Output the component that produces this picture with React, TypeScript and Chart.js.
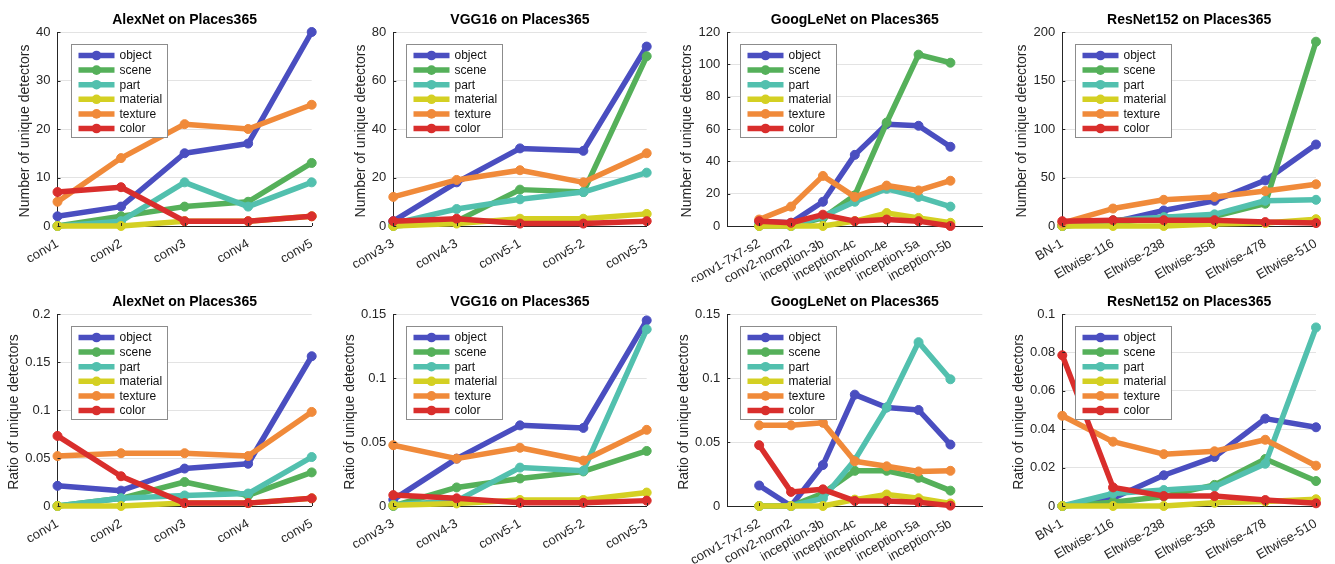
import React, { useEffect, useRef } from 'react';
import { Chart, registerables } from 'chart.js';

Chart.register(...registerables);

const FONT = '"Liberation Sans", Arial, Helvetica, sans-serif';

// ---------- data ----------
const SERIES = ['object', 'scene', 'part', 'material', 'texture', 'color'];
const COLORS = ['#4a4ec0', '#55b05a', '#52c0ae', '#d4d023', '#f08a3a', '#d92e2c'];

const COUNT_LABEL = 'Number of unique detectors';
const RATIO_LABEL = 'Ratio of unique detectors';

const alexNetLayers = ['conv1', 'conv2', 'conv3', 'conv4', 'conv5'];
const vggLayers = ['conv3-3', 'conv4-3', 'conv5-1', 'conv5-2', 'conv5-3'];
const googLeNetLayers = ['conv1-7x7-s2', 'conv2-norm2', 'inception-3b', 'inception-4c', 'inception-4e', 'inception-5a', 'inception-5b'];
const resNetLayers = ['BN-1', 'Eltwise-116', 'Eltwise-238', 'Eltwise-358', 'Eltwise-478', 'Eltwise-510'];

// rows follow SERIES order: object, scene, part, material, texture, color
const alexNetCounts = [
  [2, 4, 15, 17, 40],
  [0, 2, 4, 5, 13],
  [0, 1, 9, 4, 9],
  [0, 0, 1, 1, 2],
  [5, 14, 21, 20, 25],
  [7, 8, 1, 1, 2],
];
const vggCounts = [
  [2, 18, 32, 31, 74],
  [0, 2, 15, 14, 70],
  [1, 7, 11, 14, 22],
  [0, 1, 3, 3, 5],
  [12, 19, 23, 18, 30],
  [2, 3, 1, 1, 2],
];
const googLeNetCounts = [
  [3, 2, 15, 44, 63, 62, 49],
  [0, 0, 5, 19, 64, 106, 101],
  [1, 0, 6, 15, 23, 18, 12],
  [0, 0, 0, 3, 8, 5, 2],
  [4, 12, 31, 18, 25, 22, 28],
  [3, 2, 7, 3, 4, 3, 0],
];
const resNetCounts = [
  [0, 4, 16, 26, 47, 84],
  [0, 3, 9, 10, 23, 190],
  [0, 6, 9, 12, 26, 27],
  [0, 0, 0, 2, 3, 7],
  [3, 18, 27, 30, 36, 43],
  [5, 6, 6, 6, 4, 3],
];
const alexNetRatios = [
  [0.021, 0.016, 0.039, 0.044, 0.156],
  [0, 0.008, 0.025, 0.011, 0.035],
  [0, 0.008, 0.011, 0.013, 0.051],
  [0, 0, 0.003, 0.003, 0.008],
  [0.052, 0.055, 0.055, 0.052, 0.098],
  [0.073, 0.031, 0.003, 0.003, 0.008],
];
const vggRatios = [
  [0.005, 0.037, 0.063, 0.061, 0.145],
  [0, 0.0145, 0.0215, 0.027, 0.043],
  [0.001, 0.004, 0.03, 0.0275, 0.138],
  [0.0005, 0.002, 0.0047, 0.0047, 0.0105],
  [0.0475, 0.037, 0.0455, 0.0355, 0.0595],
  [0.0085, 0.006, 0.0025, 0.0025, 0.0042],
];
const googLeNetRatios = [
  [0.016, 0, 0.032, 0.087, 0.077, 0.075, 0.048],
  [0, 0, 0.01, 0.0275, 0.0275, 0.022, 0.012],
  [0, 0, 0.006, 0.036, 0.077, 0.128, 0.099],
  [0, 0, 0, 0.005, 0.009, 0.006, 0.002],
  [0.063, 0.063, 0.065, 0.035, 0.031, 0.027, 0.0275],
  [0.0475, 0.011, 0.013, 0.004, 0.004, 0.003, 0.0003],
];
const resNetRatios = [
  [0, 0.004, 0.016, 0.0255, 0.0455, 0.041],
  [0, 0.002, 0.005, 0.011, 0.0245, 0.013],
  [0, 0.0065, 0.0083, 0.01, 0.022, 0.093],
  [0, 0, 0, 0.0017, 0.0024, 0.0035],
  [0.047, 0.0335, 0.027, 0.0285, 0.0345, 0.021],
  [0.0785, 0.0097, 0.0052, 0.0052, 0.0031, 0.0014],
];

// ---------- layout ----------
const ROW_TOP = [0, 282];
const ROW_H = 282;
const CHART_TOP = [32, 314];
const CHART_BOTTOM = [226, 506];
const COL_LEFT = [0, 335, 668, 1001];
const COL_W = 334;
const AXIS_LEFT = [57.5, 393.3, 727.3, 1062.3];
const CHART_RIGHT = [311.7, 646.7, 982.3, 1316];

type Panel = {
  title: string;
  yLabel: string;
  layers: string[];
  values: number[][];
  yMax: number;
  yStep: number;
  xMin: number;
  xMax: number;
  row: number;
  col: number;
};

const PANELS: Panel[] = [
  { title: 'AlexNet on Places365', yLabel: COUNT_LABEL, layers: alexNetLayers, values: alexNetCounts, yMax: 40, yStep: 10, xMin: 1, xMax: 5, row: 0, col: 0 },
  { title: 'VGG16 on Places365', yLabel: COUNT_LABEL, layers: vggLayers, values: vggCounts, yMax: 80, yStep: 20, xMin: 1, xMax: 5, row: 0, col: 1 },
  { title: 'GoogLeNet on Places365', yLabel: COUNT_LABEL, layers: googLeNetLayers, values: googLeNetCounts, yMax: 120, yStep: 20, xMin: 0, xMax: 8, row: 0, col: 2 },
  { title: 'ResNet152 on Places365', yLabel: COUNT_LABEL, layers: resNetLayers, values: resNetCounts, yMax: 200, yStep: 50, xMin: 1, xMax: 6, row: 0, col: 3 },
  { title: 'AlexNet on Places365', yLabel: RATIO_LABEL, layers: alexNetLayers, values: alexNetRatios, yMax: 0.2, yStep: 0.05, xMin: 1, xMax: 5, row: 1, col: 0 },
  { title: 'VGG16 on Places365', yLabel: RATIO_LABEL, layers: vggLayers, values: vggRatios, yMax: 0.15, yStep: 0.05, xMin: 1, xMax: 5, row: 1, col: 1 },
  { title: 'GoogLeNet on Places365', yLabel: RATIO_LABEL, layers: googLeNetLayers, values: googLeNetRatios, yMax: 0.15, yStep: 0.05, xMin: 0, xMax: 8, row: 1, col: 2 },
  { title: 'ResNet152 on Places365', yLabel: RATIO_LABEL, layers: resNetLayers, values: resNetRatios, yMax: 0.1, yStep: 0.02, xMin: 1, xMax: 6, row: 1, col: 3 },
];

const fmt = (v: number) => String(Number(v.toFixed(6)));

function PanelChart({ panel }: { panel: Panel }) {
  const ref = useRef<HTMLCanvasElement>(null);
  const left = COL_LEFT[panel.col];
  const top = ROW_TOP[panel.row];
  const yWidth = AXIS_LEFT[panel.col] - left;
  const padRight = left + COL_W - CHART_RIGHT[panel.col];
  const padTop = CHART_TOP[panel.row] - top;
  const xHeight = top + ROW_H - CHART_BOTTOM[panel.row];

  useEffect(() => {
    const decor = {
      id: 'panelDecor',
      afterDraw(chart: any) {
        const ctx = chart.ctx as CanvasRenderingContext2D;
        const a = chart.chartArea;
        const xs = chart.scales.x;
        const ys = chart.scales.y;
        ctx.save();
        // inward tick marks
        ctx.strokeStyle = '#262626';
        ctx.lineWidth = 1;
        ctx.beginPath();
        ys.ticks.forEach((t: any) => {
          const y = Math.round(ys.getPixelForValue(t.value)) + 0.5;
          ctx.moveTo(a.left, y);
          ctx.lineTo(a.left + 3, y);
        });
        xs.ticks.forEach((t: any) => {
          const x = Math.round(xs.getPixelForValue(t.value)) + 0.5;
          ctx.moveTo(x, a.bottom);
          ctx.lineTo(x, a.bottom - 3);
        });
        ctx.stroke();

        // title
        ctx.fillStyle = '#000';
        ctx.font = `bold 14px ${FONT}`;
        ctx.textAlign = 'center';
        ctx.textBaseline = 'middle';
        ctx.fillText(panel.title, (a.left + a.right) / 2, a.top - 12);

        // y-axis label
        ctx.font = `13px ${FONT}`;
        let maxW = 0;
        ys.ticks.forEach((t: any) => {
          maxW = Math.max(maxW, ctx.measureText(fmt(t.value)).width);
        });
        ctx.font = `14px ${FONT}`;
        ctx.fillStyle = '#262626';
        ctx.translate(a.left - 7 - maxW - 11, (a.top + a.bottom) / 2 + 2);
        ctx.rotate(-Math.PI / 2);
        ctx.fillText(panel.yLabel, 0, 0);
        ctx.restore();

        // legend
        ctx.save();
        const bx = Math.round(a.left + 13) + 0.5;
        const by = Math.round(a.top + 12) + 0.5;
        const bw = 96;
        const bh = 93;
        ctx.fillStyle = '#ffffff';
        ctx.fillRect(bx, by, bw, bh);
        ctx.strokeStyle = '#8c8c8c';
        ctx.lineWidth = 1;
        ctx.strokeRect(bx, by, bw, bh);
        ctx.font = `12px ${FONT}`;
        ctx.textAlign = 'left';
        ctx.textBaseline = 'middle';
        chart.data.datasets.forEach((ds: any, i: number) => {
          const cy = by + 11 + i * 14.6;
          ctx.strokeStyle = ds.borderColor;
          ctx.lineWidth = 5.5;
          ctx.lineCap = 'butt';
          ctx.beginPath();
          ctx.moveTo(bx + 7, cy);
          ctx.lineTo(bx + 43, cy);
          ctx.stroke();
          ctx.fillStyle = ds.borderColor;
          ctx.beginPath();
          ctx.arc(bx + 25, cy, 4.8, 0, Math.PI * 2);
          ctx.fill();
          ctx.fillStyle = '#111';
          ctx.fillText(ds.label, bx + 48, cy + 0.5);
        });
        ctx.restore();
      },
    };

    const chart = new Chart(ref.current as HTMLCanvasElement, {
      type: 'line',
      data: {
        datasets: SERIES.map((name, i) => ({
          label: name,
          data: panel.values[i].map((v, j) => ({ x: j + 1, y: v })),
          borderColor: COLORS[i],
          backgroundColor: COLORS[i],
          pointBackgroundColor: COLORS[i],
          pointBorderColor: COLORS[i],
          borderWidth: 5.5,
          pointRadius: 4.5,
          pointBorderWidth: 1,
          tension: 0,
          borderJoinStyle: 'round' as const,
          borderCapStyle: 'round' as const,
          clip: false as any,
          order: SERIES.length - i,
        })),
      },
      options: {
        responsive: false,
        animation: false,
        devicePixelRatio: 1,
        events: [],
        layout: { padding: { left: 0, right: padRight, top: padTop, bottom: 0 } },
        plugins: {
          legend: { display: false },
          title: { display: false },
          tooltip: { enabled: false },
        },
        scales: {
          x: {
            type: 'linear',
            min: panel.xMin,
            max: panel.xMax,
            afterBuildTicks: (s: any) => {
              s.ticks = panel.layers.map((_, j) => ({ value: j + 1 }));
            },
            afterFit: (s: any) => {
              s.height = xHeight;
            },
            grid: { display: false, drawTicks: false },
            border: { display: true, color: '#262626', width: 1 },
            ticks: {
              autoSkip: false,
              minRotation: 30,
              maxRotation: 30,
              padding: 10,
              color: '#262626',
              font: { family: FONT, size: 13 },
              callback: (v: any) => panel.layers[Number(v) - 1] ?? '',
            },
          },
          y: {
            type: 'linear',
            min: 0,
            max: panel.yMax,
            afterFit: (s: any) => {
              s.width = yWidth;
            },
            grid: { display: true, color: '#e3e3e3', drawTicks: false },
            border: { display: true, color: '#262626', width: 1 },
            ticks: {
              stepSize: panel.yStep,
              padding: 7,
              color: '#262626',
              font: { family: FONT, size: 13 },
              callback: (v: any) => fmt(Number(v)),
            },
          },
        },
      },
      plugins: [decor],
    } as any);
    return () => chart.destroy();
  }, []);

  return (
    <canvas
      ref={ref}
      width={COL_W}
      height={ROW_H}
      style={{ position: 'absolute', left, top, width: COL_W, height: ROW_H, display: 'block' }}
    />
  );
}

export default function App() {
  return (
    <div style={{ position: 'absolute', left: 0, top: 0, width: 1335, height: 564, background: '#ffffff', overflow: 'hidden' }}>
      {PANELS.map((p, i) => (
        <PanelChart key={i} panel={p} />
      ))}
    </div>
  );
}
